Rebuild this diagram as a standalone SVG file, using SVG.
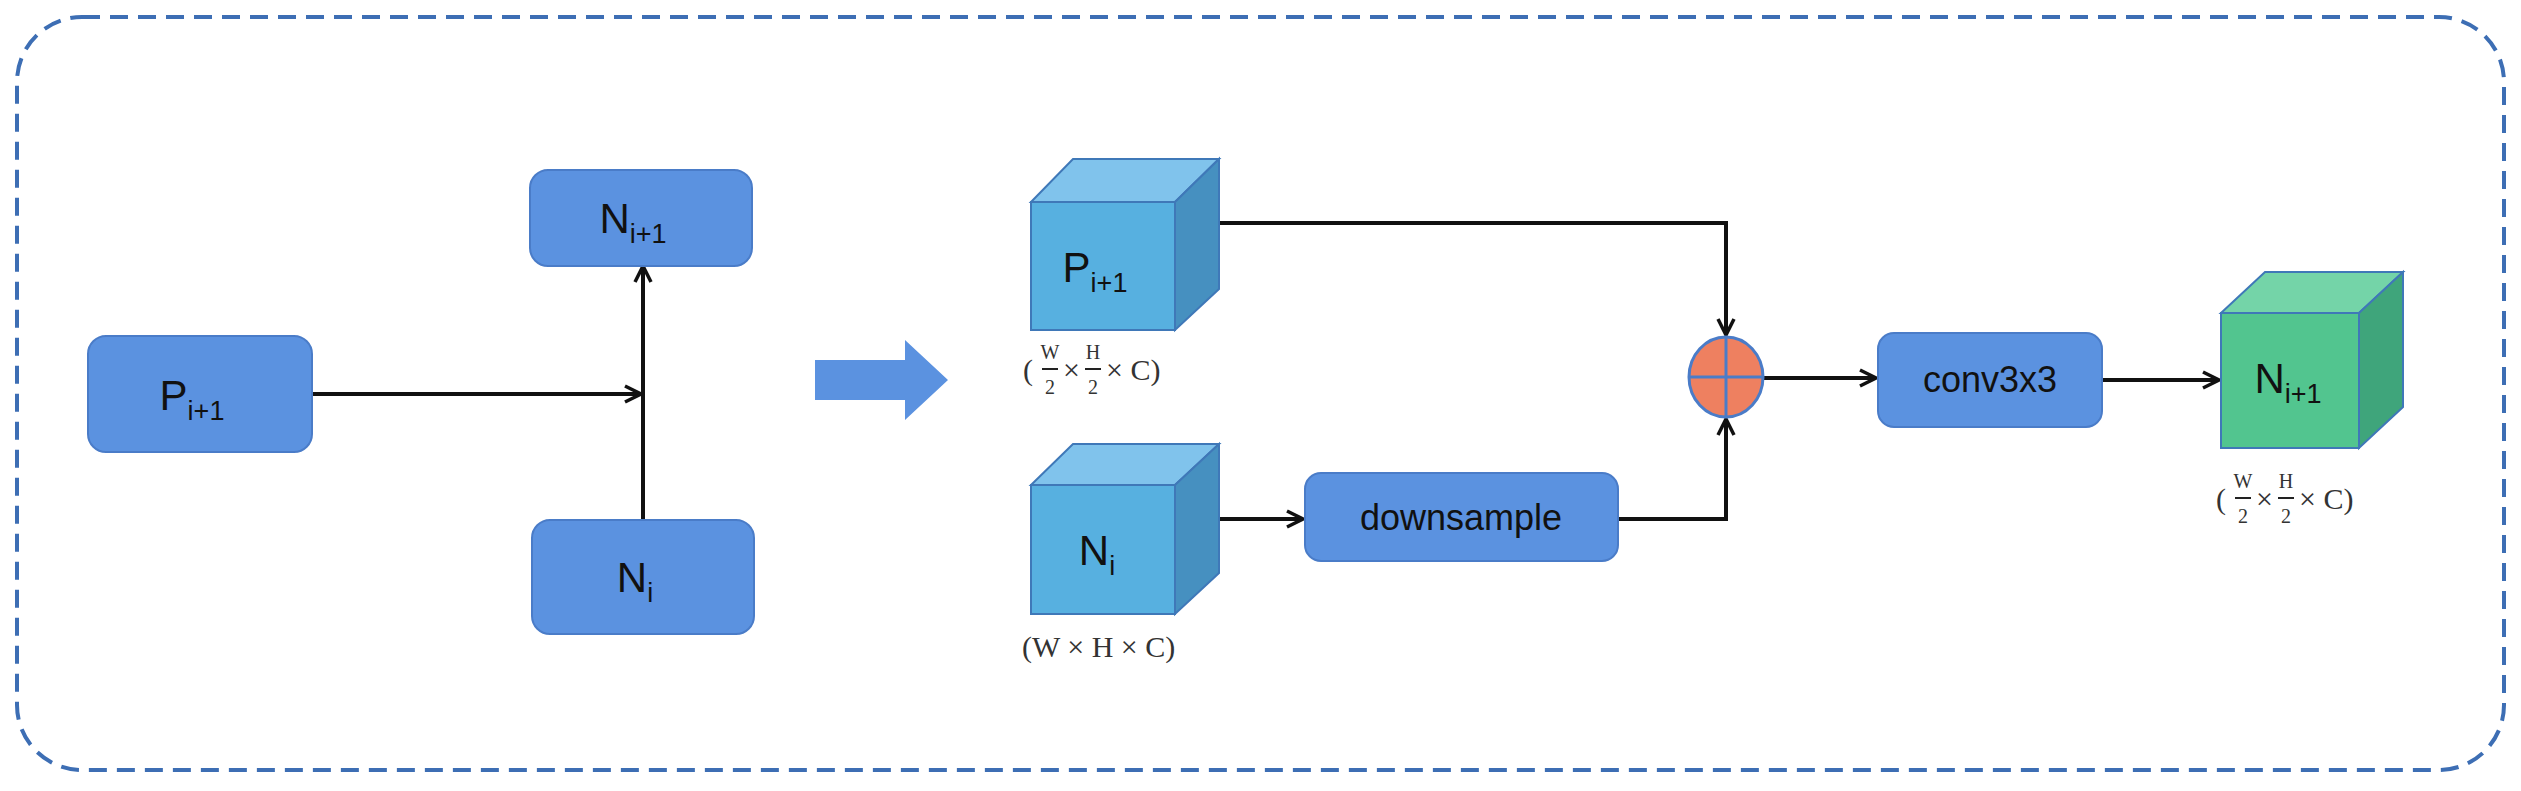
<svg xmlns="http://www.w3.org/2000/svg" width="2521" height="791" viewBox="0 0 2521 791">
<defs>
<style>
.box{fill:#5b92e0;stroke:#4a7cc8;stroke-width:2}
.lbl{font-family:"Liberation Sans",Arial,sans-serif;font-size:42px;fill:#111;text-anchor:middle}
.sub{font-size:27px}
.dim{font-family:"Liberation Serif","Times New Roman",serif;font-size:30px;fill:#333}
.dims{font-family:"Liberation Serif","Times New Roman",serif;font-size:20px;fill:#333;text-anchor:middle}
.ln{fill:none;stroke:#111;stroke-width:4}
.cf{fill:#57b0e0;stroke:#3f78b8;stroke-width:2}
.ct{fill:#80c3ec;stroke:#3f78b8;stroke-width:2}
.cs{fill:#4690c0;stroke:#3f78b8;stroke-width:2}
.gf{fill:#52c58f;stroke:#3f78b8;stroke-width:2}
.gt{fill:#74d4a8;stroke:#3f78b8;stroke-width:2}
.gs{fill:#3fa57b;stroke:#3f78b8;stroke-width:2}
</style>
<marker id="ah" viewBox="0 0 20 20" refX="18" refY="10" markerWidth="20" markerHeight="20" markerUnits="userSpaceOnUse" orient="auto">
<path d="M2,2 L18,10 L2,18" fill="none" stroke="#111" stroke-width="3.5"/>
</marker>
</defs>
<rect x="17" y="17" width="2487" height="753" rx="65" fill="none" stroke="#3d6eb4" stroke-width="4" stroke-dasharray="18,10"/>

<g id="connectors">
<line class="ln" x1="312" y1="394" x2="641" y2="394" marker-end="url(#ah)"/>
<line class="ln" x1="643" y1="520" x2="643" y2="266" marker-end="url(#ah)"/>
<polyline class="ln" points="1219,223 1726,223 1726,335" marker-end="url(#ah)"/>
<line class="ln" x1="1208" y1="519" x2="1303" y2="519" marker-end="url(#ah)"/>
<polyline class="ln" points="1618,519 1726,519 1726,419" marker-end="url(#ah)"/>
<line class="ln" x1="1763" y1="378" x2="1876" y2="378" marker-end="url(#ah)"/>
<line class="ln" x1="2102" y1="380" x2="2219" y2="380" marker-end="url(#ah)"/>
</g>

<g id="p_left"><rect class="box" x="88" y="336" width="224" height="116" rx="18"/>
<text class="lbl" x="192" y="410">P<tspan class="sub" dy="10">i+1</tspan></text></g>
<g id="n_top"><rect class="box" x="530" y="170" width="222" height="96" rx="18"/>
<text class="lbl" x="633" y="233">N<tspan class="sub" dy="10">i+1</tspan></text></g>
<g id="n_bottom"><rect class="box" x="532" y="520" width="222" height="114" rx="18"/>
<text class="lbl" x="635" y="592">N<tspan class="sub" dy="10">i</tspan></text></g>

<g id="block_arrow"><polygon points="815,360 905,360 905,340 948,380 905,420 905,400 815,400" fill="#5b92e0"/></g>

<g id="cube_p">
<polygon class="ct" points="1031,202 1073,159 1219,159 1175,202"/>
<polygon class="cs" points="1175,202 1219,159 1219,289 1175,330"/>
<rect class="cf" x="1031" y="202" width="144" height="128"/>
<text class="lbl" x="1095" y="282">P<tspan class="sub" dy="10">i+1</tspan></text>
<text class="dim" x="1023" y="380">(</text>
<text class="dims" x="1050" y="359">W</text><line x1="1042" y1="369" x2="1058" y2="369" stroke="#222" stroke-width="2"/><text class="dims" x="1050" y="394">2</text>
<text class="dim" x="1063" y="380">×</text>
<text class="dims" x="1093" y="359">H</text><line x1="1085" y1="369" x2="1101" y2="369" stroke="#222" stroke-width="2"/><text class="dims" x="1093" y="394">2</text>
<text class="dim" x="1106" y="380">× C)</text>
</g>

<g id="cube_n">
<polygon class="ct" points="1031,485 1073,444 1219,444 1175,485"/>
<polygon class="cs" points="1175,485 1219,444 1219,573 1175,614"/>
<rect class="cf" x="1031" y="485" width="144" height="129"/>
<text class="lbl" x="1097" y="565">N<tspan class="sub" dy="10">i</tspan></text>
<text class="dim" x="1022" y="657">(W × H × C)</text>
</g>

<g id="downsample"><rect class="box" x="1305" y="473" width="313" height="88" rx="16"/>
<text class="lbl" x="1461" y="530" style="font-size:36px">downsample</text></g>

<g id="add"><ellipse cx="1726" cy="377" rx="37" ry="40" fill="#ee8060" stroke="#4a7cc8" stroke-width="3"/>
<line x1="1689" y1="377" x2="1763" y2="377" stroke="#4a7cc8" stroke-width="3"/>
<line x1="1726" y1="337" x2="1726" y2="417" stroke="#4a7cc8" stroke-width="3"/></g>

<g id="conv"><rect class="box" x="1878" y="333" width="224" height="94" rx="16"/>
<text class="lbl" x="1990" y="392" style="font-size:36px">conv3x3</text></g>

<g id="cube_out">
<polygon class="gt" points="2221,313 2265,272 2403,272 2359,313"/>
<polygon class="gs" points="2359,313 2403,272 2403,407 2359,448"/>
<rect class="gf" x="2221" y="313" width="138" height="135"/>
<text class="lbl" x="2288" y="393">N<tspan class="sub" dy="10">i+1</tspan></text>
<text class="dim" x="2216" y="509">(</text>
<text class="dims" x="2243" y="488">W</text><line x1="2235" y1="498" x2="2251" y2="498" stroke="#222" stroke-width="2"/><text class="dims" x="2243" y="523">2</text>
<text class="dim" x="2256" y="509">×</text>
<text class="dims" x="2286" y="488">H</text><line x1="2278" y1="498" x2="2294" y2="498" stroke="#222" stroke-width="2"/><text class="dims" x="2286" y="523">2</text>
<text class="dim" x="2299" y="509">× C)</text>
</g>
</svg>
